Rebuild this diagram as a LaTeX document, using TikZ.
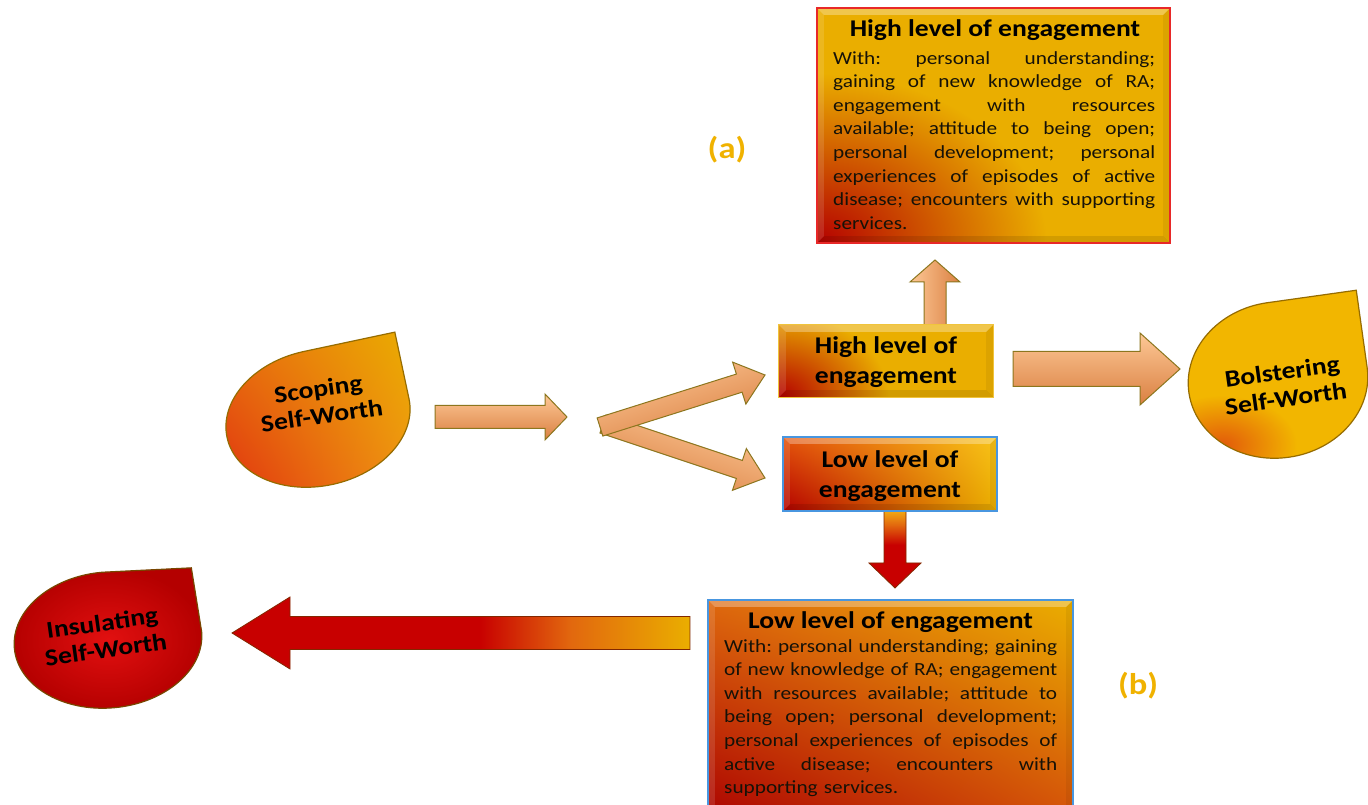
\documentclass[tikz,border=0pt]{standalone}
\usepackage{fontspec}
\setmainfont{Carlito}[FakeStretch=1.15]
\usetikzlibrary{calc,shadings}

\definecolor{cgold}{RGB}{234,174,0}
\definecolor{cgoldL}{RGB}{248,196,24}
\definecolor{cbolgold}{RGB}{242,182,0}
\definecolor{cred}{RGB}{200,0,0}
\definecolor{cdred}{RGB}{180,0,0}
\definecolor{corange}{RGB}{226,104,14}
\definecolor{cpeach}{RGB}{250,168,104}
\definecolor{cpeachL}{RGB}{253,200,150}
\definecolor{cpeachD}{RGB}{218,128,66}
\definecolor{cpeachrim}{RGB}{140,118,30}
\definecolor{crim}{RGB}{232,40,40}
\definecolor{cblue}{RGB}{72,150,224}
\definecolor{cink}{RGB}{22,18,8}
\definecolor{ctag}{RGB}{240,178,0}
\definecolor{cdroprim}{RGB}{150,108,0}
\definecolor{cscopeUL}{RGB}{232,112,16}
\definecolor{cscopeLL}{RGB}{224,48,14}
\definecolor{cscopeLR}{RGB}{240,150,20}
\definecolor{cbolspot}{RGB}{226,90,10}
\definecolor{cinsIn}{RGB}{226,16,16}
\definecolor{cinsRim}{RGB}{120,70,0}
\definecolor{chighRim}{RGB}{240,196,60}
\definecolor{clowUL}{RGB}{228,84,12}
\definecolor{cbotUL}{RGB}{222,104,14}
\definecolor{cbotLL}{RGB}{170,0,0}
\definecolor{cbotLR}{RGB}{212,80,10}
\definecolor{credRim}{RGB}{130,40,0}

% colour ramps for the two coloured arrows
\pgfdeclarehorizontalshading{redtogold}{100bp}{color(0bp)=(cred); color(25bp)=(cred); color(52bp)=(cred); color(62bp)=(corange); color(75bp)=(cgold); color(100bp)=(cgold)}
\pgfdeclareverticalshading{goldtored}{100bp}{color(0bp)=(cred); color(25bp)=(cred); color(51bp)=(cred); color(63bp)=(corange); color(75bp)=(cgoldL); color(100bp)=(cgoldL)}

% block arrow: #1 style, #2 tail, #3 tip, #4 shaft half width, #5 head half width, #6 head length
\newcommand\blockarrow[6]{%
  \coordinate (bah) at ($(#3)!#6!(#2)$);
  \path[#1] ($(#2)!#4!90:(#3)$) -- ($(bah)!#4!90:(#3)$) -- ($(bah)!#5!90:(#3)$) -- (#3)
    -- ($(bah)!#5!-90:(#3)$) -- ($(bah)!#4!-90:(#3)$) -- ($(#2)!#4!-90:(#3)$) -- cycle;}

% tear drop: #1 centre, #2 x radius, #3 y radius, #4 rotation, #5 tip position, #6 style
\newcommand\teardrop[6]{%
  \path[#6, shift={#1}, rotate=#4, xscale=#2, yscale=#3]
    (-1,0) arc[start angle=180, end angle=90, radius=1pt]
    -- (#5,#5) -- (1,0)
    arc[start angle=0, end angle=-180, radius=1pt] -- cycle;}

% bevelled edge of a panel: #1 node, #2 inset
\newcommand\panelbevel[2]{%
  \fill[white, opacity=.30] (#1.north west) -- (#1.north east) -- ($(#1.north east)+(-#2,-#2)$) -- ($(#1.north west)+(#2,-#2)$) -- cycle;
  \fill[white, opacity=.12] (#1.north west) -- ($(#1.north west)+(#2,-#2)$) -- ($(#1.south west)+(#2,#2)$) -- (#1.south west) -- cycle;
  \fill[black, opacity=.10] (#1.south west) -- ($(#1.south west)+(#2,#2)$) -- ($(#1.south east)+(-#2,#2)$) -- (#1.south east) -- cycle;
  \fill[black, opacity=.06] (#1.south east) -- ($(#1.south east)+(-#2,#2)$) -- ($(#1.north east)+(-#2,-#2)$) -- (#1.north east) -- cycle;}

% one fully justified line of a given width
\newcommand\jl[2]{\makebox[#1][s]{\spaceskip=0pt\xspaceskip=0pt\relax #2}}

\tikzset{
  panel/.style={rectangle, inner sep=0pt, draw=none},
  peacharrow/.style={draw=cpeachrim, line width=1pt, top color=cpeachL, middle color=cpeach, bottom color=cpeachD},
  bodytxt/.style={text=cink, font=\frenchspacing\fontsize{18.5}{23.6}\selectfont, align=left, inner sep=0pt, anchor=north west},
  titletxt/.style={text=black, font=\bfseries\fontsize{24}{27}\selectfont, inner sep=0pt},
  boxtxt/.style={text=black, font=\bfseries\fontsize{24}{30}\selectfont, align=center, inner sep=0pt},
  droptxt/.style={text=black, font=\bfseries\fontsize{24}{27}\selectfont, align=center, rotate=8, inner sep=0pt},
  tagtxt/.style={text=ctag, font=\bfseries\fontsize{30}{32}\selectfont, inner sep=0pt},
}

\begin{document}
\begin{tikzpicture}[x=1pt, y=1pt]
\useasboundingbox (0,0) rectangle (1368,805);
\clip (0,0) rectangle (1368,805);
\fill[white] (0,0) rectangle (1368,805);

% ---------- tear drops ----------
\teardrop{(318,387)}{93}{68}{12}{1}{draw=cdroprim, line width=1.2pt,
  upper left=cscopeUL, lower left=cscopeLL, upper right=cgold, lower right=cscopeLR}
\node[droptxt] (scoping) at (320,403) {Scoping\\Self-Worth};

\begin{scope}
  \teardrop{(1278,425)}{90}{78}{8}{1}{clip}
  \fill[cbolgold] (1180,330) rectangle (1368,530);
  \shade[inner color=cbolspot, outer color=cbolgold] (1222,360) ellipse[x radius=75pt, y radius=50pt];
\end{scope}
\teardrop{(1278,425)}{90}{78}{8}{1}{draw=cdroprim, line width=1.2pt}
\node[droptxt] (bolster) at (1284,420) {Bolstering\\Self-Worth};

\teardrop{(108,165)}{94}{68}{5}{0.95}{draw=cinsRim, line width=1.2pt,
  inner color=cinsIn, outer color=cdred}
\node[droptxt] (insulate) at (104,169) {Insulating\\Self-Worth};

% ---------- arrows ----------
\coordinate (a1s) at (435,388);  \coordinate (a1e) at (567,388);
\coordinate (vls) at (603,381);  \coordinate (vle) at (765,327);
\coordinate (vus) at (600,378);  \coordinate (vue) at (765,430);
\coordinate (ups) at (935,470);  \coordinate (upe) at (935,545);
\coordinate (rts) at (1013,436); \coordinate (rte) at (1180,436);
\coordinate (dns) at (895,300);  \coordinate (dne) at (895,217);
\coordinate (lfs) at (690,172);  \coordinate (lfe) at (232,172);

\blockarrow{peacharrow}{a1s}{a1e}{11.5pt}{23pt}{22pt}
\blockarrow{peacharrow, shading angle=-18}{vls}{vle}{9.5pt}{22pt}{27pt}
\blockarrow{peacharrow, shading angle=18}{vus}{vue}{9.5pt}{22pt}{27pt}
\blockarrow{peacharrow, shading angle=90}{ups}{upe}{11pt}{25pt}{22pt}
\blockarrow{peacharrow}{rts}{rte}{17.5pt}{36pt}{40pt}
\blockarrow{draw=credRim, line width=0.8pt, shading=goldtored}{dns}{dne}{11pt}{26pt}{25pt}
\blockarrow{draw=credRim, line width=0.8pt, shading=redtogold}{lfs}{lfe}{16.5pt}{36pt}{58pt}

% ---------- top panel (a) ----------
\node[panel, minimum width=353pt, minimum height=235pt, fill=cgold] (topbox) at (993.5,679.5) {};
\begin{scope}
  \clip (topbox.south west) rectangle (topbox.north east);
  \shade[inner color=cdred, outer color=cgold] (topbox.south west) ellipse[x radius=230pt, y radius=170pt];
\end{scope}
\panelbevel{topbox}{7}
\draw[crim, line width=1.5pt] (topbox.south west) rectangle (topbox.north east);
\node[titletxt] (toptitle) at (995,775) {High level of engagement};
\node[bodytxt, text width=322pt] (topbody) at (833,754) {%
\jl{322pt}{With: personal understanding;}\\
\jl{322pt}{gaining of new knowledge of RA;}\\
\jl{322pt}{engagement with resources}\\
\jl{322pt}{available; attitude to being open;}\\
\jl{322pt}{personal development; personal}\\
\jl{322pt}{experiences of episodes of active}\\
\jl{322pt}{disease; encounters with supporting}\\
services.};
\node[tagtxt] (taga) at (727,655) {(a)};

% ---------- high / low panels ----------
\node[panel, minimum width=214pt, minimum height=72pt, fill=cgold] (highbox) at (886,444) {};
\begin{scope}
  \clip (highbox.south west) rectangle (highbox.north east);
  \shade[inner color=cdred, outer color=cgold] (highbox.south west) ellipse[x radius=110pt, y radius=85pt];
\end{scope}
\panelbevel{highbox}{7}
\draw[chighRim, line width=1pt] (highbox.south west) rectangle (highbox.north east);
\node[boxtxt] (hightxt) at (886,443) {High level of\\engagement};

\node[panel, minimum width=214pt, minimum height=74pt] (lowbox) at (890,331) {};
\shade[upper left=clowUL, lower left=cdred, upper right=cgoldL, lower right=cgold]
  (lowbox.south west) rectangle (lowbox.north east);
\panelbevel{lowbox}{7}
\draw[cblue, line width=1.5pt] (lowbox.south west) rectangle (lowbox.north east);
\node[boxtxt] (lowtxt) at (890,329) {Low level of\\engagement};

% ---------- bottom panel (b) ----------
\node[panel, minimum width=365pt, minimum height=225pt] (botbox) at (890.5,92.5) {};
\shade[upper left=cbotUL, lower left=cbotLL, upper right=cgold, lower right=cbotLR]
  (botbox.south west) rectangle (botbox.north east);
\panelbevel{botbox}{7}
\draw[cblue, line width=1.5pt] (botbox.south west) rectangle (botbox.north east);
\node[titletxt] (bottitle) at (890.5,183) {Low level of engagement};
\node[bodytxt, text width=333pt] (botbody) at (724,166) {%
\jl{333pt}{With: personal understanding; gaining}\\
\jl{333pt}{of new knowledge of RA; engagement}\\
\jl{333pt}{with resources available; attitude to}\\
\jl{333pt}{being open; personal development;}\\
\jl{333pt}{personal experiences of episodes of}\\
\jl{333pt}{active disease; encounters with}\\
supporting services.};
\node[tagtxt] (tagb) at (1138,119) {(b)};
\end{tikzpicture}
\end{document}
